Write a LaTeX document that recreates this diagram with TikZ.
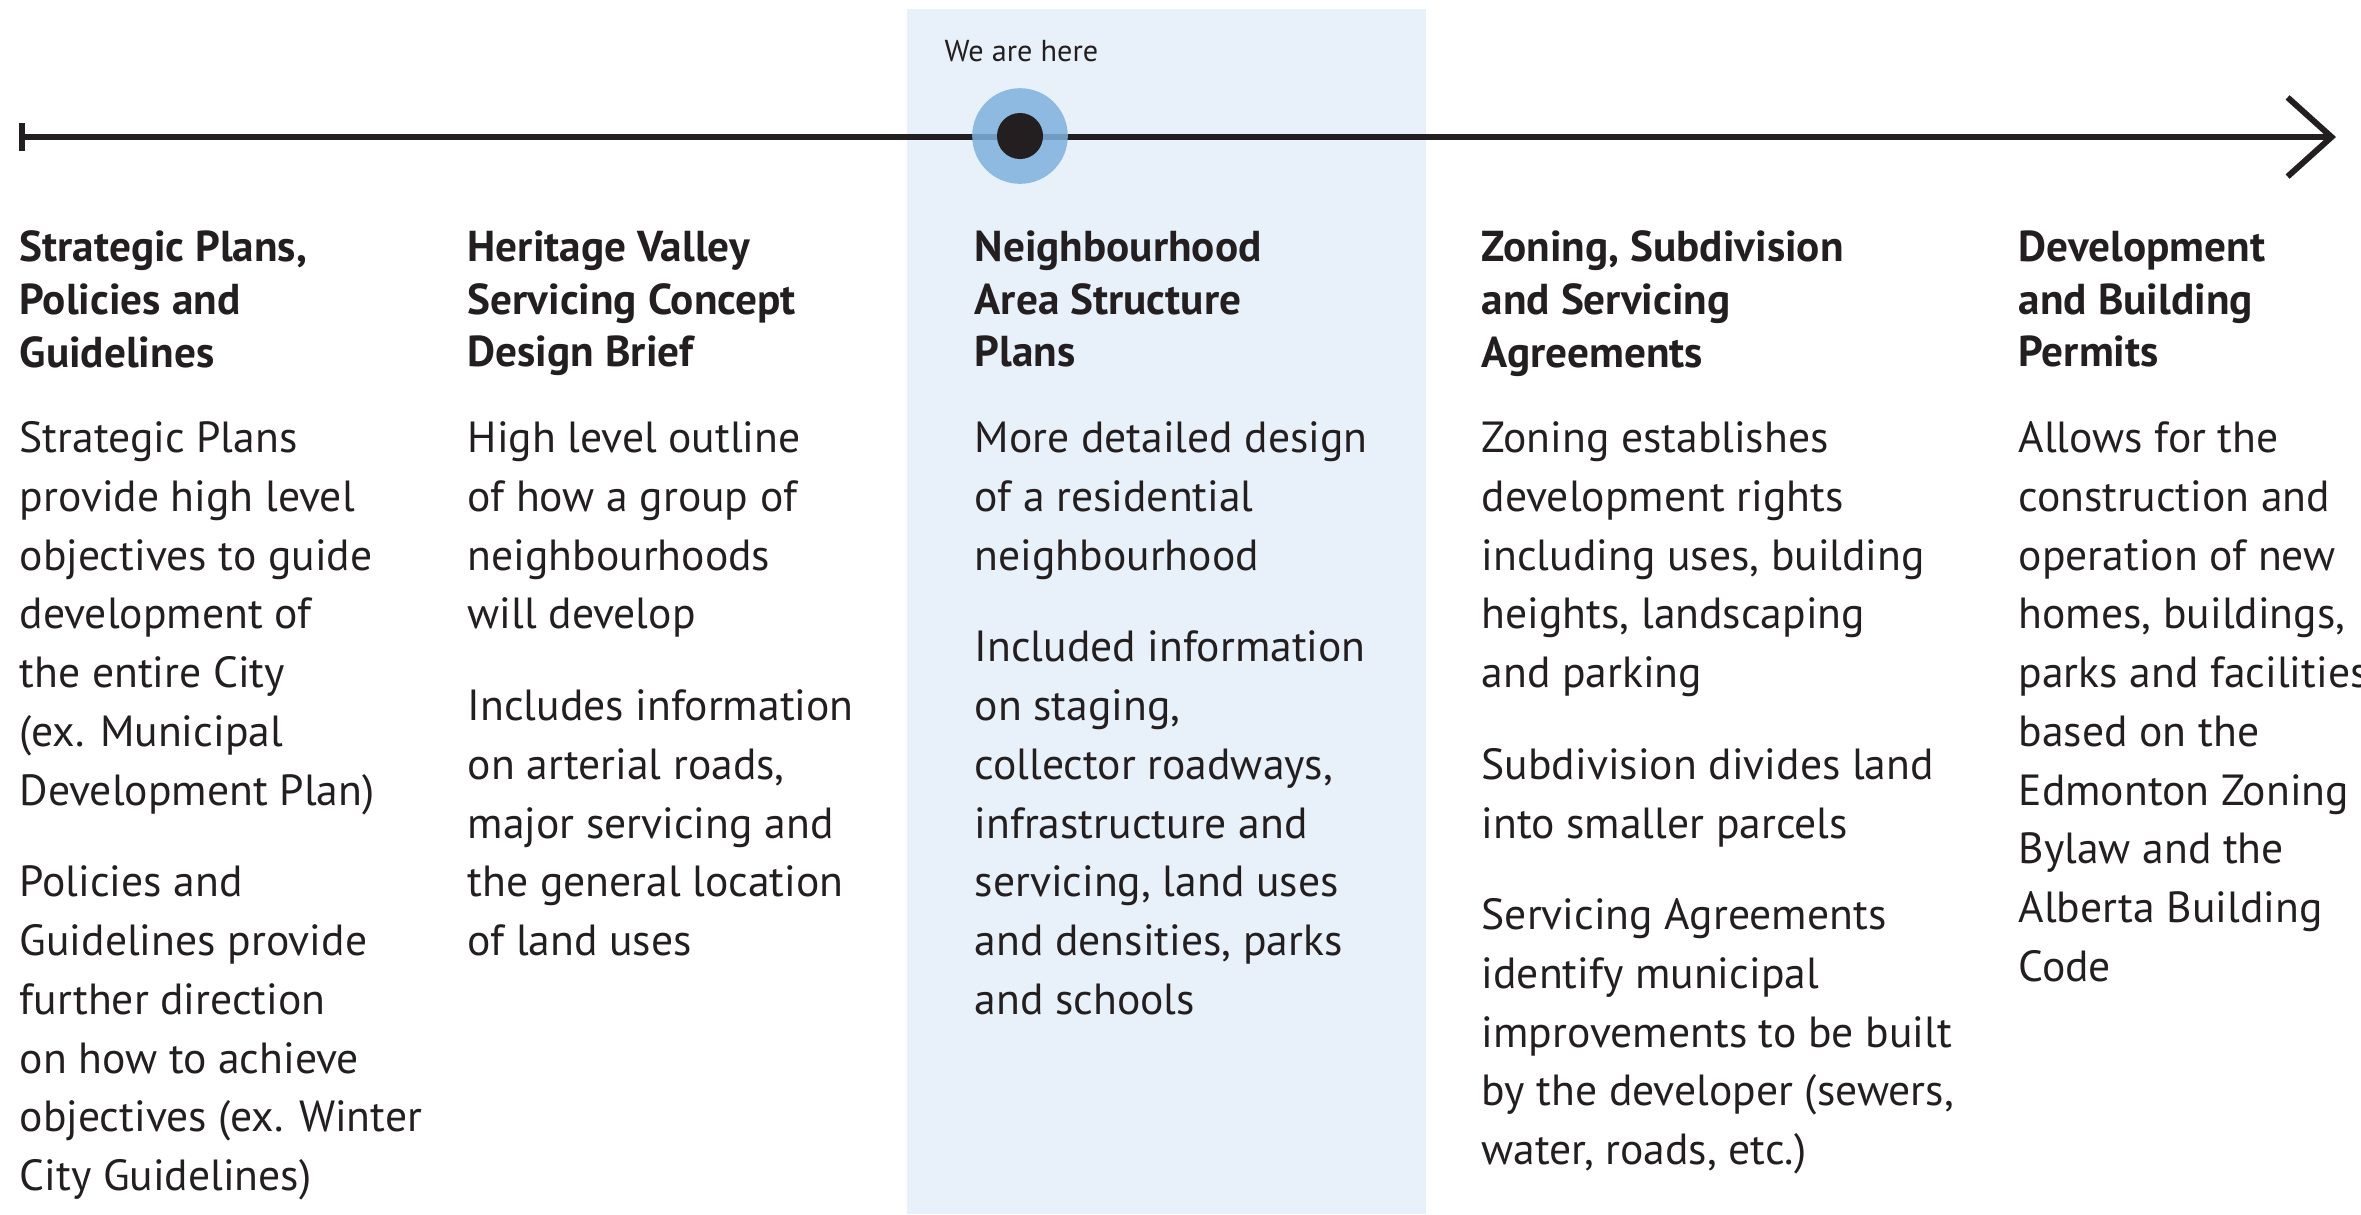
\documentclass[tikz,border=0pt]{standalone}
\usepackage{fontspec}
\setmainfont{PT Sans}
\usepackage{tikz}
\usetikzlibrary{arrows.meta}
\usetikzlibrary{positioning}
\definecolor{ink}{HTML}{231F20}
\definecolor{panel}{HTML}{E8F1F9}
\definecolor{halo}{HTML}{7FB1DD}

\begin{document}
\begin{tikzpicture}[x=0.01cm, y=-0.01cm, inner sep=0pt, text=ink,
    head/.style = {anchor=north west, align=left, font=\fontsize{12.3}{15}\selectfont\bfseries},
    body/.style = {anchor=north west, align=left, font=\fontsize{12.4}{16.7}\selectfont}]
    \useasboundingbox (0,0) rectangle (2361,1214);
    \fill[panel] (907,9) rectangle (1426,1214);

    % Timeline
    \coordinate (start) at (19,137);
    \coordinate (end) at (2336,137);
    \draw[ink, line width=1.7pt, {Bar[width=7.7pt]}-{Straight Barb[length=12.5pt, width=22.5pt]}] (start) -- (end);
    \node[circle, fill=halo, fill opacity=0.85, minimum size=0.956cm] (here) at (1020,136) {};
    \node[circle, fill=ink, minimum size=0.46cm] (dot) at (here) {};
    \node[anchor=base west, font=\fontsize{8.6}{10}\selectfont] (label) at (944,61) {We are here};

    % Nodes
    \node[head] (h1) at (19,230) {Strategic Plans,\\Policies and\\Guidelines};
    \node[head] (h2) at (467,230) {Heritage Valley\\Servicing Concept\\Design Brief};
    \node[head] (h3) at (974,230) {Neighbourhood\\Area Structure\\Plans};
    \node[head] (h4) at (1481,230) {Zoning, Subdivision\\and Servicing\\Agreements};
    \node[head] (h5) at (2018,230) {Development\\and Building\\Permits};

    \node[body] (b1) at (19,421) {Strategic Plans\\provide high level\\objectives to guide\\development of\\the entire City\\(ex. Municipal\\Development Plan)\\[9.4pt]
        Policies and\\Guidelines provide\\further direction\\on how to achieve\\objectives (ex. Winter\\City Guidelines)};
    \node[body] (b2) at (467,421) {High level outline\\of how a group of\\neighbourhoods\\will develop\\[9.4pt]
        Includes information\\on arterial roads,\\major servicing and\\the general location\\of land uses};
    \node[body] (b3) at (974,421) {More detailed design\\of a residential\\neighbourhood\\[9.4pt]
        Included information\\on staging,\\collector roadways,\\infrastructure and\\servicing, land uses\\and densities, parks\\and schools};
    \node[body] (b4) at (1481,421) {Zoning establishes\\development rights\\including uses, building\\heights, landscaping\\and parking\\[9.4pt]
        Subdivision divides land\\into smaller parcels\\[9.4pt]
        Servicing Agreements\\identify municipal\\improvements to be built\\by the developer (sewers,\\water, roads, etc.)};
    \node[body] (b5) at (2018,421) {Allows for the\\construction and\\operation of new\\homes, buildings,\\parks and facilities\\based on the\\Edmonton Zoning\\Bylaw and the\\Alberta Building\\Code};
\end{tikzpicture}
\end{document}
